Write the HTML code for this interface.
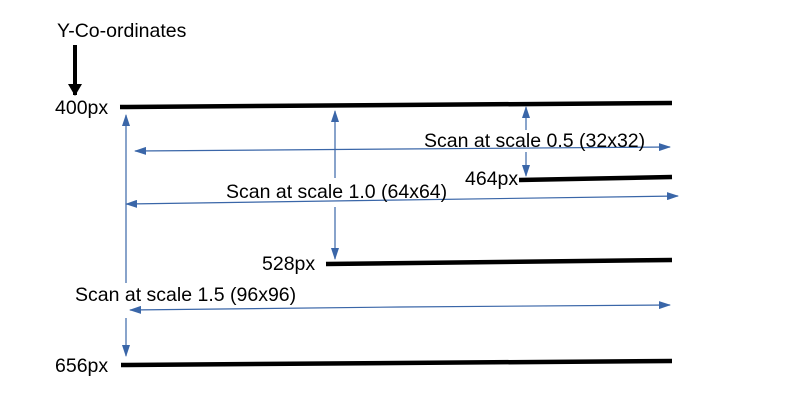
<!DOCTYPE html>
<html><head><meta charset="utf-8"><style>
html,body{margin:0;padding:0;background:#fff;width:792px;height:417px;overflow:hidden}
svg text{font-family:"Liberation Sans",sans-serif;font-size:19.5px;fill:#000}
</style></head><body>
<svg width="792" height="417" viewBox="0 0 792 417" xmlns="http://www.w3.org/2000/svg">
<defs>
<marker id="b" markerWidth="12" markerHeight="8" refX="11" refY="4" orient="auto" markerUnits="userSpaceOnUse">
<path d="M0,0 L12,4 L0,8 Z" fill="#3a66a8"/></marker>
<marker id="k" markerWidth="12" markerHeight="14" refX="11" refY="7" orient="auto" markerUnits="userSpaceOnUse">
<path d="M0,0 L12,7 L0,14 Z" fill="#000"/></marker>
</defs>
<text x="57" y="37">Y-Co-ordinates</text>
<line x1="75" y1="45" x2="75" y2="95" stroke="#000" stroke-width="4" marker-end="url(#k)"/>
<text x="55" y="114">400px</text>
<text x="465" y="185">464px</text>
<text x="262" y="270">528px</text>
<text x="55" y="372">656px</text>
<g stroke="#000" stroke-width="4.5">
<line x1="120" y1="107" x2="672" y2="103"/>
<line x1="519" y1="180" x2="672" y2="177"/>
<line x1="326" y1="264" x2="672" y2="260"/>
<line x1="121" y1="365" x2="672" y2="361"/>
</g>
<g stroke="#3a66a8" stroke-width="1.2" fill="none">
<line x1="126" y1="283" x2="126" y2="115" marker-end="url(#b)"/>
<line x1="126" y1="318" x2="126" y2="356" marker-end="url(#b)"/>
<line x1="335" y1="178" x2="335" y2="111" marker-end="url(#b)"/>
<line x1="335" y1="207" x2="335" y2="259" marker-end="url(#b)"/>
<line x1="526" y1="130" x2="526" y2="107" marker-end="url(#b)"/>
<line x1="526" y1="152" x2="526" y2="176" marker-end="url(#b)"/>
<line x1="400" y1="149" x2="135" y2="151" marker-end="url(#b)"/>
<line x1="400" y1="149" x2="670" y2="147" marker-end="url(#b)"/>
<line x1="400" y1="200" x2="126" y2="204" marker-end="url(#b)"/>
<line x1="400" y1="200" x2="678" y2="196" marker-end="url(#b)"/>
<line x1="400" y1="307" x2="130" y2="310" marker-end="url(#b)"/>
<line x1="400" y1="307" x2="670" y2="305" marker-end="url(#b)"/>
</g>
<text x="424" y="147">Scan at scale 0.5 (32x32)</text>
<text x="226" y="198">Scan at scale 1.0 (64x64)</text>
<text x="75" y="301">Scan at scale 1.5 (96x96)</text>
</svg>
</body></html>
